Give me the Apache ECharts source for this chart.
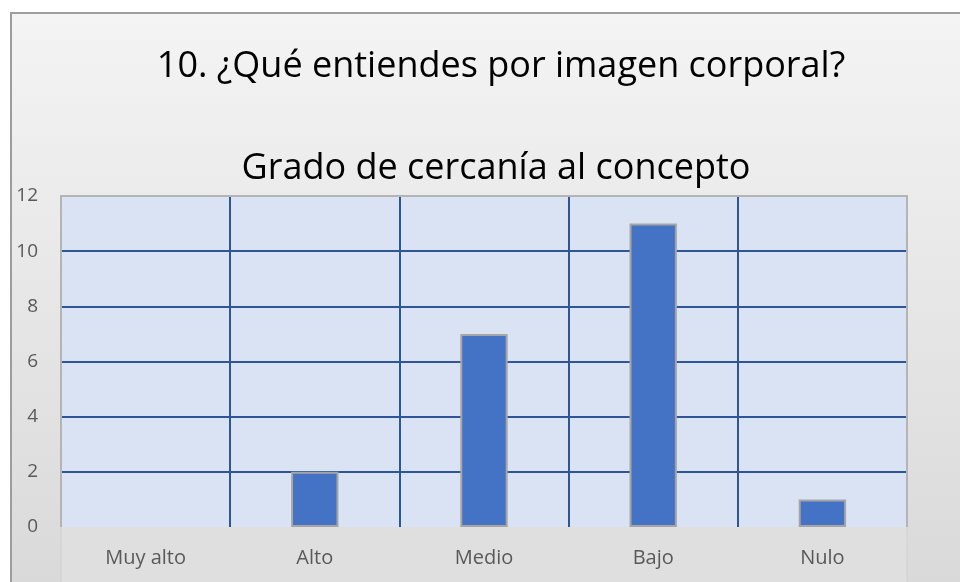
<!DOCTYPE html>
<html><head><meta charset="utf-8">
<script src="https://cdn.jsdelivr.net/npm/echarts@6/dist/echarts.min.js"></script>
<style>html,body{margin:0;padding:0;background:#fff}#c{width:960px;height:582px}</style>
</head><body><div id="c"></div>
<script>
const categories = ['Muy alto', 'Alto', 'Medio', 'Bajo', 'Nulo'];
const values = [0, 2, 7, 11, 1];
const yTicks = [0, 2, 4, 6, 8, 10, 12];
const titleLine1 = '10. ¿Qué entiendes por imagen corporal?';
const titleLine2 = 'Grado de cercanía al concepto';

const FONT = 'Open Sans';
const chart = echarts.init(document.getElementById('c'));
const G = {left: 61, top: 196, width: 846, height: 331};
chart.setOption({
  backgroundColor: '#ffffff',
  animation: false,
  graphic: [
    {type: 'rect', z: -10, shape: {x: 11, y: 13, width: 960, height: 600},
      style: {fill: new echarts.graphic.LinearGradient(0, 0, 0, 1, [
        {offset: 0, color: '#f4f4f4'}, {offset: 1, color: '#d8d8d8'}]),
        stroke: '#9d9d9d', lineWidth: 2}},
    {type: 'rect', z: -9, shape: {x: G.left, y: G.top + G.height, width: G.width, height: 60},
      style: {fill: '#dfdfdf'}},
    {type: 'polyline', z: 5, shape: {points: [[G.left, G.top + G.height], [G.left, G.top], [G.left + G.width, G.top], [G.left + G.width, G.top + G.height]]},
      style: {stroke: '#b4b4b4', lineWidth: 2, fill: null}},
    {type: 'line', z: -8, shape: {x1: G.left, y1: G.top + G.height, x2: G.left, y2: 590},
      style: {stroke: '#cfcfcf', lineWidth: 1}},
    {type: 'line', z: -8, shape: {x1: G.left + G.width, y1: G.top + G.height, x2: G.left + G.width, y2: 590},
      style: {stroke: '#d0d0d0', lineWidth: 1}}
  ],
  title: [
    {text: titleLine1, top: 44, left: 496, textAlign: 'center', textStyle: {fontFamily: FONT, fontSize: 36, fontWeight: 'normal', color: '#000'}},
    {text: titleLine2, top: 146, left: 491, textAlign: 'center', textStyle: {fontFamily: FONT, fontSize: 36, fontWeight: 'normal', color: '#000'}}
  ],
  grid: Object.assign({show: true, backgroundColor: '#dae3f3', borderWidth: 0}, G),
  xAxis: {
    type: 'category', data: categories,
    axisLine: {show: false}, axisTick: {show: false},
    axisLabel: {fontFamily: FONT, fontSize: 20, color: '#595959', margin: 21},
    splitLine: {show: true, showMinLine: false, showMaxLine: false, interval: 0, lineStyle: {color: '#2f5597', width: 2}}
  },
  yAxis: {
    type: 'value', min: 0, max: 12, interval: 2,
    axisLine: {show: false}, axisTick: {show: false},
    axisLabel: {fontFamily: FONT, fontSize: 19, color: '#595959', margin: 23,
      formatter: v => yTicks.includes(v) ? String(v) : ''},
    splitLine: {show: true, showMinLine: false, showMaxLine: false, lineStyle: {color: '#2f5597', width: 2}}
  },
  series: [{
    type: 'bar', barWidth: '28%',
    data: values.map(v => v === 0 ? {value: v, itemStyle: {borderWidth: 0}} : v),
    itemStyle: {color: '#4472c4', borderColor: '#a5a5a5', borderWidth: 2}
  }]
});
</script></body></html>
